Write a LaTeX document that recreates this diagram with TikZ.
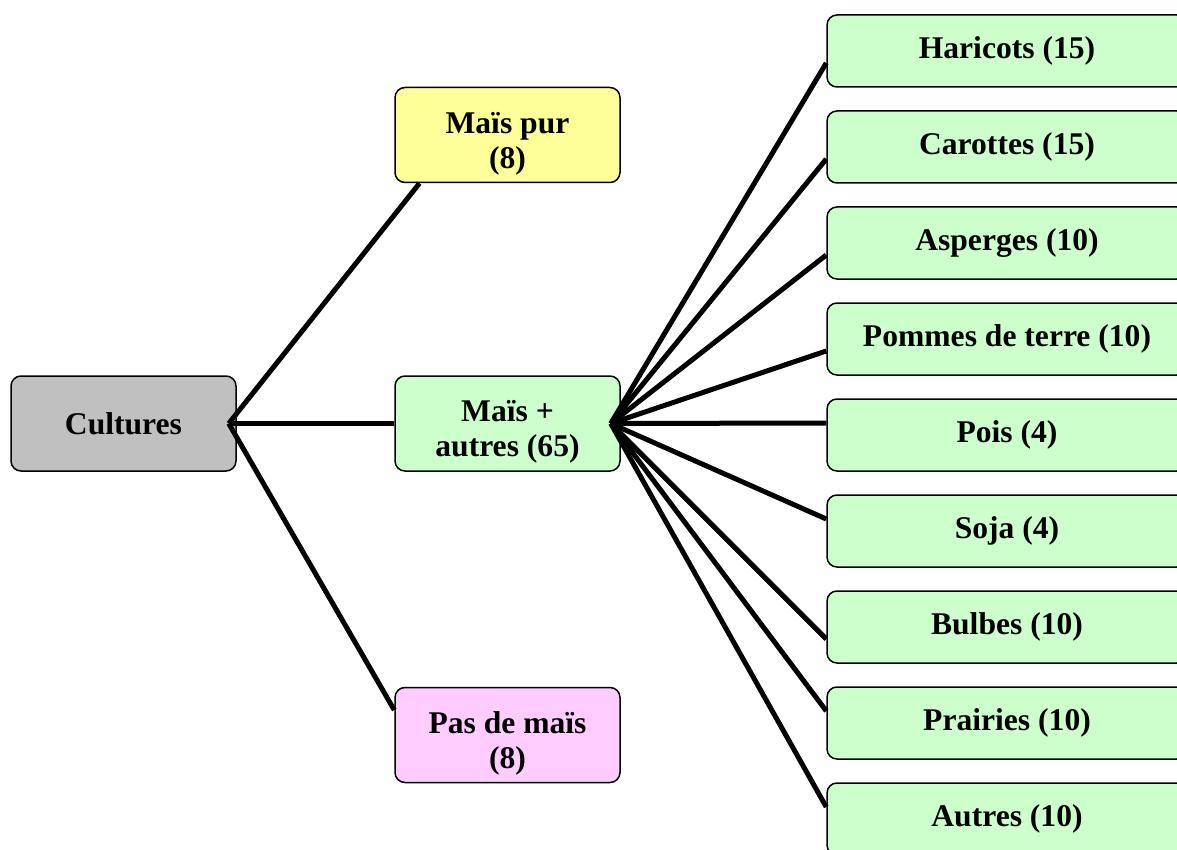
\documentclass[tikz,border=0pt]{standalone}
\usepackage{fontspec}
\setmainfont{Liberation Serif}
\definecolor{culgray}{HTML}{C0C0C0}
\definecolor{puryellow}{HTML}{FFFF99}
\definecolor{mixgreen}{HTML}{CCFFCC}
\definecolor{nonepink}{HTML}{FFCCFF}
\newcommand{\topgap}{\rule{0pt}{19pt}}
\tikzset{
  box/.style={draw, rounded corners=5pt, line width=0.75pt, inner sep=0pt,
    minimum width=112.5pt, minimum height=47.5pt, align=center,
    font=\bfseries\fontsize{15.8}{17.5}\selectfont},
  cropbox/.style={box, fill=mixgreen, minimum width=180pt, minimum height=36pt},
  link/.style={line width=2.5pt}
}
\begin{document}
\begin{tikzpicture}[x=0.5pt,y=-0.5pt]
    % Page frame (the right column runs off the page)
    \useasboundingbox (0,0) rectangle (1177,850);
    \clip (0,0) rectangle (1177,850);

    % Root and the three maize groups
    \node [box, fill=culgray] (cul) at (123.5,423.5) {Cultures};
    \node [box, fill=puryellow] (pur) at (507.5,135) {\topgap Maïs pur\\(8)};
    \node [box, fill=mixgreen] (mix) at (507.5,423.5) {\topgap Maïs +\\autres (65)};
    \node [box, fill=nonepink] (none) at (507.5,735) {\topgap Pas de maïs\\(8)};

    % Crops grown beside maize
    \node [cropbox] (har) at (1007,51) {Haricots (15)};
    \node [cropbox] (car) at (1007,147) {Carottes (15)};
    \node [cropbox] (asp) at (1007,243) {Asperges (10)};
    \node [cropbox] (pdt) at (1007,339) {Pommes de terre (10)};
    \node [cropbox] (poi) at (1007,435) {Pois (4)};
    \node [cropbox] (soj) at (1007,531) {Soja (4)};
    \node [cropbox] (bul) at (1007,627) {Bulbes (10)};
    \node [cropbox] (pra) at (1007,723) {Prairies (10)};
    \node [cropbox] (aut) at (1007,819) {Autres (10)};

    % Branch points just inside the boxes
    \coordinate (culout) at ([xshift=-4pt]cul.east);
    \coordinate (mixout) at ([xshift=-5pt]mix.east);

    % Links from the root
    \draw [link] (culout) -- ([xshift=-44pt]pur.south);
    \draw [link] (culout) -- (mix.west);
    \draw [link] (culout) -- ([yshift=12.5pt]none.west);

    % Links to the crops
    \draw [link] (mixout) -- ([yshift=-6pt]har.west);
    \draw [link] (mixout) -- ([yshift=-6pt]car.west);
    \draw [link] (mixout) -- ([yshift=-6pt]asp.west);
    \draw [link] (mixout) -- ([yshift=-6pt]pdt.west);
    \draw [link] (mixout) -- ([yshift=6pt]poi.west);
    \draw [link] (mixout) -- ([yshift=6pt]soj.west);
    \draw [link] (mixout) -- ([yshift=-6pt]bul.west);
    \draw [link] (mixout) -- ([yshift=6pt]pra.west);
    \draw [link] (mixout) -- ([yshift=6pt]aut.west);

\end{tikzpicture}
\end{document}
